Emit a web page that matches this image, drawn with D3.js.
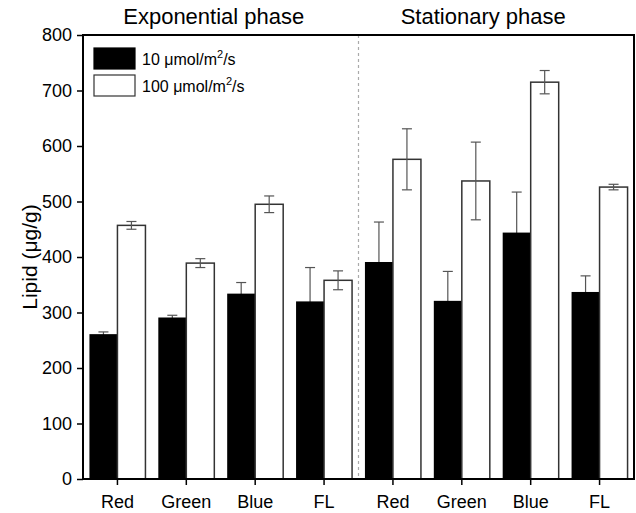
<!DOCTYPE html>
<html><head><meta charset="utf-8">
<script src="https://cdn.jsdelivr.net/npm/d3@7"></script>
<style>body{margin:0;background:#fff}svg{display:block}text{font-family:Arial,"Liberation Sans",sans-serif}</style>
</head><body><svg id="c" width="636" height="513"></svg>
<script>
const categories = ["Red","Green","Blue","FL","Red","Green","Blue","FL"];
const phases = ["Exponential phase","Stationary phase"];
const seriesNames = ["10 μmol/m²/s","100 μmol/m²/s"];
const low = [261, 291, 334, 320, 391, 321, 444, 337];
const lowErr = [4, 4, 20, 61, 72, 53, 73, 29];
const high = [457, 389, 495, 358, 576, 537, 715, 526];
const highErr = [7, 8, 15, 17, 55, 70, 21, 5];
const yTicks = [0,100,200,300,400,500,600,700,800];

const svg = d3.select("#c");
const m = {l:83, r:634, t:35, b:479};
const x = d3.scaleBand().domain(d3.range(categories.length)).range([m.l, m.r]).padding(0);
const y = d3.scaleLinear().domain([0,800]).range([m.b, m.t]);
const bw = 28;

// separator
svg.append("line").attr("x1", x(4)).attr("x2", x(4)).attr("y1", m.t).attr("y2", m.b)
  .attr("stroke","#aaa").attr("stroke-width",1.2).attr("stroke-dasharray","3,3");

function errBar(g, cx, v, e, col){
  g.append("line").attr("x1",cx).attr("x2",cx).attr("y1",y(v+e)).attr("y2",y(v-e)).attr("stroke",col).attr("stroke-width",1.2);
  [v+e, v-e].forEach(t => g.append("line").attr("x1",cx-5).attr("x2",cx+5).attr("y1",y(t)).attr("y2",y(t)).attr("stroke",col).attr("stroke-width",1.2));
}

const g = svg.append("g");
categories.forEach((c,i) => {
  const cx = x(i) + x.bandwidth()/2;
  errBar(g, cx - bw/2, low[i], lowErr[i], "#555");
  g.append("rect").attr("x", cx - bw).attr("y", y(low[i])).attr("width", bw).attr("height", y(0)-y(low[i])).attr("fill","#000");
  g.append("rect").attr("x", cx).attr("y", y(high[i])).attr("width", bw).attr("height", y(0)-y(high[i]))
    .attr("fill","#fff").attr("stroke","#333").attr("stroke-width",1.5);
  errBar(g, cx + bw/2, high[i], highErr[i], "#555");
});

// frame
svg.append("rect").attr("x",m.l).attr("y",m.t).attr("width",m.r-m.l).attr("height",m.b-m.t)
  .attr("fill","none").attr("stroke","#000").attr("stroke-width",2);

const FF = "Arial, 'Liberation Sans', sans-serif";
// y axis
const ya = svg.append("g").attr("transform",`translate(${m.l},0)`)
  .call(d3.axisLeft(y).tickValues(yTicks).tickSize(6).tickPadding(5));
ya.select(".domain").remove();
ya.selectAll("line").attr("stroke","#000").attr("stroke-width",1.5);
ya.selectAll("text").attr("font-size",18).attr("fill","#000").style("font-family",FF);

// x axis
const xa = svg.append("g").attr("transform",`translate(0,${m.b})`)
  .call(d3.axisBottom(x).tickFormat(i => categories[i]).tickSize(6).tickPadding(10));
xa.select(".domain").remove();
xa.selectAll("line").attr("stroke","#000").attr("stroke-width",1.5);
xa.selectAll("text").attr("font-size",18).attr("fill","#000").style("font-family",FF);

// y title
svg.append("text").attr("transform",`translate(37,${(m.t+m.b)/2}) rotate(-90)`).attr("text-anchor","middle")
  .attr("font-size",21).text("Lipid (μg/g)");

// phase titles
[[0,3],[4,7]].forEach((r,k) => {
  const cx = (x(r[0]) + x(r[1]) + x.bandwidth())/2;
  svg.append("text").attr("x", cx + (k===0 ? -7 : -13)).attr("y", 24).attr("text-anchor","middle").attr("font-size",22).text(phases[k]);
});

// legend
const lg = svg.append("g");
[0,1].forEach(k => {
  const yy = 48 + k*27;
  lg.append("rect").attr("x",94).attr("y",yy).attr("width",41).attr("height",21)
    .attr("fill", k===0 ? "#000" : "#fff").attr("stroke", k===0 ? "#000" : "#333").attr("stroke-width",1.2);
  const t = lg.append("text").attr("x",142).attr("y",yy+17).attr("font-size",16);
  const pre = k===0 ? "10 μmol/m" : "100 μmol/m";
  t.append("tspan").text(pre);
  t.append("tspan").attr("font-size",11).attr("dy",-7).text("2");
  t.append("tspan").attr("dy",7).text("/s");
});
</script></body></html>
